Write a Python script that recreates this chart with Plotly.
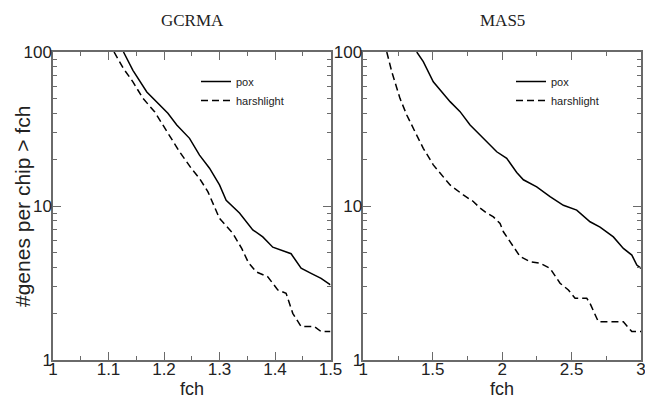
import plotly.graph_objects as go

# ---- data ----
gcrma_pox_fch = [1.127, 1.144, 1.169, 1.190, 1.207, 1.223, 1.246, 1.264, 1.282, 1.300,
                 1.312, 1.336, 1.360, 1.378, 1.396, 1.429, 1.447, 1.465, 1.483, 1.500]
gcrma_pox_n = [100, 76, 55, 46.4, 40, 33.6, 27.5, 21.4, 17.6, 13.7,
               10.9, 9.0, 7.0, 6.3, 5.4, 4.9, 3.94, 3.65, 3.39, 3.07]

gcrma_harsh_fch = [1.110, 1.127, 1.144, 1.162, 1.183, 1.205, 1.228, 1.249, 1.264, 1.279,
                   1.286, 1.294, 1.300, 1.324, 1.340, 1.352, 1.366, 1.387, 1.405, 1.420,
                   1.432, 1.447, 1.471, 1.483, 1.500]
gcrma_harsh_n = [100, 78, 64, 50, 41, 30.4, 22.5, 17.6, 15.1, 12.4,
                 10.9, 9.4, 8.3, 6.65, 5.3, 4.3, 3.74, 3.47, 2.85, 2.71,
                 2.01, 1.65, 1.65, 1.53, 1.53]

mas5_pox_fch = [1.385, 1.432, 1.504, 1.625, 1.697, 1.769, 1.841, 1.913, 1.961, 2.033,
                2.105, 2.153, 2.249, 2.345, 2.441, 2.537, 2.633, 2.705, 2.801, 2.873,
                2.934, 2.970, 3.000]
mas5_pox_n = [100, 86.5, 64, 47.6, 41, 33.6, 28.9, 24.9, 22.5, 20.4,
              16.5, 14.8, 13.3, 11.5, 10.1, 9.4, 7.9, 7.3, 6.3, 5.3,
              4.8, 4.14, 3.94]

mas5_harsh_fch = [1.169, 1.205, 1.264, 1.313, 1.372, 1.432, 1.504, 1.565, 1.625, 1.720,
                  1.792, 1.841, 1.889, 1.937, 1.985, 2.009, 2.069, 2.129, 2.201, 2.273,
                  2.345, 2.417, 2.477, 2.525, 2.609, 2.633, 2.693, 2.873, 2.934, 3.000]
mas5_harsh_n = [100, 74.5, 50, 39, 30.4, 23.7, 18.5, 15.9, 13.7, 11.8,
                10.7, 9.7, 9.0, 8.5, 7.7, 6.8, 5.6, 4.7, 4.35, 4.25,
                3.94, 3.15, 2.85, 2.52, 2.52, 2.33, 1.77, 1.77, 1.53, 1.53]

panel_titles = ["GCRMA", "MAS5"]
series_names = ["pox", "harshlight"]
gcrma_x_ticks = [1, 1.1, 1.2, 1.3, 1.4, 1.5]
gcrma_x_labels = ["1", "1.1", "1.2", "1.3", "1.4", "1.5"]
mas5_x_ticks = [1, 1.5, 2, 2.5, 3]
mas5_x_labels = ["1", "1.5", "2", "2.5", "3"]
y_tickvals = [1, 10, 100]
y_labels = ["1", "10", "100"]
y_minor = [2, 3, 4, 5, 6, 7, 8, 9, 20, 30, 40, 50, 60, 70, 80, 90]

W, H = 645, 398
OFF = 0  # page body margin removed via post_script


def fx(p):
    return (p - OFF) / W


def fy(p):
    return 1 - (p - OFF) / H


AX = "#6a6a6a"
solid = dict(color="black", width=1.5)
dashed = dict(color="black", width=1.5, dash="7px,4px")

fig = go.Figure()
fig.add_trace(go.Scatter(x=gcrma_pox_fch, y=gcrma_pox_n, mode="lines", name=series_names[0],
                         line=solid, xaxis="x", yaxis="y", legend="legend"))
fig.add_trace(go.Scatter(x=gcrma_harsh_fch, y=gcrma_harsh_n, mode="lines", name=series_names[1],
                         line=dashed, xaxis="x", yaxis="y", legend="legend"))
fig.add_trace(go.Scatter(x=mas5_pox_fch, y=mas5_pox_n, mode="lines", name=series_names[0],
                         line=solid, xaxis="x2", yaxis="y2", legend="legend2"))
fig.add_trace(go.Scatter(x=mas5_harsh_fch, y=mas5_harsh_n, mode="lines", name=series_names[1],
                         line=dashed, xaxis="x2", yaxis="y2", legend="legend2"))

tickfont = dict(family="Liberation Sans, Arial, sans-serif", size=17, color="#222")
common = dict(showline=True, linecolor=AX, linewidth=1.5, mirror="ticks",
              ticks="inside", ticklen=8, tickwidth=1, tickcolor=AX,
              showgrid=False, zeroline=False, tickfont=tickfont, automargin=False,
              ticklabeloverflow="allow")

ydom = [fy(360), fy(52)]
xl = [fx(53), fx(330.5)]
xr = [fx(363.3), fx(641)]


def yax(anchor):
    return dict(common, type="log", range=[0, 2], domain=ydom, anchor=anchor,
                tickmode="array", tickvals=y_tickvals, ticktext=y_labels,
                ticklabelstandoff=-4,
                minor=dict(ticks="inside", ticklen=4, tickcolor=AX, tickwidth=1,
                           tickmode="array", tickvals=y_minor))


legfont = dict(family="Liberation Sans, Arial", size=11, color="#222")
fig.update_layout(
    width=W, height=H,
    margin=dict(l=0, r=0, t=0, b=0, pad=0, autoexpand=False),
    paper_bgcolor="white", plot_bgcolor="white",
    xaxis=dict(common, domain=xl, range=[1, 1.5], anchor="y",
               tickmode="array", tickvals=gcrma_x_ticks, ticktext=gcrma_x_labels,
               ticklabelstandoff=-7,
               minor=dict(ticks="inside", ticklen=4, tickcolor=AX, tickwidth=1, dtick=0.05, tick0=1)),
    yaxis=yax("x"),
    xaxis2=dict(common, domain=xr, range=[1, 3], anchor="y2",
                tickmode="array", tickvals=mas5_x_ticks, ticktext=mas5_x_labels,
                ticklabelstandoff=-7,
                minor=dict(ticks="inside", ticklen=4, tickcolor=AX, tickwidth=1, dtick=0.25, tick0=1)),
    yaxis2=yax("x2"),
    legend=dict(x=fx(196), y=fy(67), xanchor="left", yanchor="top",
                bgcolor="rgba(0,0,0,0)", font=legfont, tracegroupgap=0, itemwidth=30),
    legend2=dict(x=fx(511), y=fy(67), xanchor="left", yanchor="top",
                 bgcolor="rgba(0,0,0,0)", font=legfont, tracegroupgap=0, itemwidth=30),
    showlegend=True,
)

serif = dict(family="Liberation Serif, Times New Roman, serif", size=17, color="#222")
sans_big = dict(family="Liberation Sans, Arial, sans-serif", size=18, color="#222")
fig.add_annotation(text=panel_titles[0], x=fx(192), y=fy(21), xref="paper", yref="paper",
                   showarrow=False, font=serif, xanchor="center", yanchor="middle")
fig.add_annotation(text=panel_titles[1], x=fx(502), y=fy(21), xref="paper", yref="paper",
                   showarrow=False, font=serif, xanchor="center", yanchor="middle")
fig.add_annotation(text="fch", x=fx(192), y=fy(389), xref="paper", yref="paper",
                   showarrow=False, font=sans_big, xanchor="center", yanchor="middle")
fig.add_annotation(text="fch", x=fx(502), y=fy(389), xref="paper", yref="paper",
                   showarrow=False, font=sans_big, xanchor="center", yanchor="middle")
fig.add_annotation(text="#genes per chip &gt; fch", x=fx(22), y=fy(207), xref="paper", yref="paper",
                   showarrow=False, textangle=-90,
                   font=dict(family="Liberation Sans, Arial, sans-serif", size=21, color="#222"),
                   xanchor="center", yanchor="middle")

fig.write_html("out.html", config={"displayModeBar": False},
               post_script="document.body.style.margin='0';document.body.style.overflow='hidden';")
